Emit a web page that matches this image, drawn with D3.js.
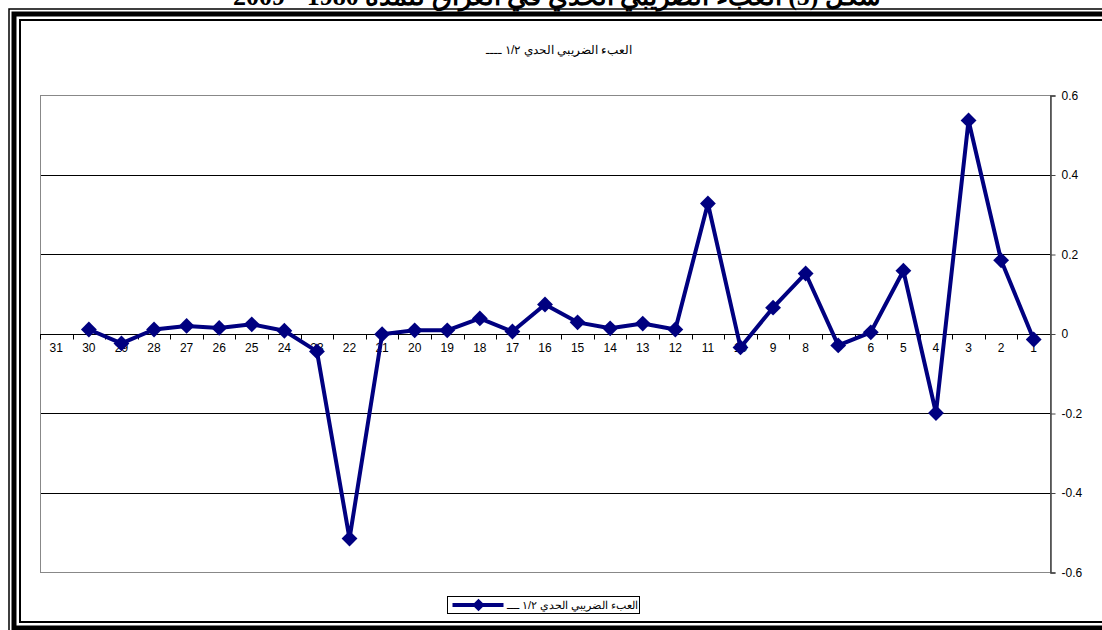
<!DOCTYPE html>
<html>
<head>
<meta charset="utf-8">
<script src="https://cdn.jsdelivr.net/npm/d3@7"></script>
<style>
	body { margin: 0; background: #fff; }
	svg { display: block; }
</style>
</head>
<body>
<div id="chart"></div>
<script>
// categories run 1..31, drawn right to left
const categories = d3.range(1, 32);
// marginal tax burden values, one per category (31 has no value)
const values = [
	-0.015, 0.184, 0.536, -0.2, 0.158, 0.003, -0.03, 0.151, 0.065, -0.035,
	0.327, 0.01, 0.025, 0.013, 0.028, 0.073, 0.005, 0.038, 0.008, 0.008,
	-0.002, -0.516, -0.045, 0.007, 0.023, 0.014, 0.019, 0.01, -0.025, 0.01,
	null
];
const yTicks = [-0.6, -0.4, -0.2, 0, 0.2, 0.4, 0.6];
const seriesName = 'العبء الضريبي الحدي ١/٢ ــــ';
const pageTitle = 'شكل (5) العبء الضريبي الحدي في العراق للمدة 1980 - 2009';

function createChart() {
	d3.select('#chart').html('');

	const width = 1102;
	const height = 630;
	const plot = { left: 40, right: 1050, top: 95, bottom: 572 };
	const navy = '#000080';

	const svg = d3
		.select('#chart')
		.append('svg')
		.attr('width', width)
		.attr('height', height)
		.style('font-family', 'Arial, "Liberation Sans", sans-serif');

	// page title, mostly cut off at the top
	svg.append('text')
		.attr('x', 557)
		.attr('y', 5)
		.attr('text-anchor', 'middle')
		.attr('direction', 'rtl')
		.style('font-family', '"Liberation Serif", "DejaVu Serif", serif')
		.style('font-weight', 'bold')
		.style('font-size', '26px')
		.text(pageTitle);

	// triple border frame: [offset, stroke width] for each ring
	const rings = [
		[9, 1.5],
		[14, 5],
		[20, 2]
	];
	const frame = svg.append('g').attr('stroke', '#000').attr('fill', 'none');
	rings.forEach(([o, w]) => {
		const bottom = 642 - o;
		frame.append('path')
			.attr('d', `M${width + 5},${o}H${o}V${bottom}H${width + 5}`)
			.attr('stroke-width', w);
	});

	const x = d3
		.scaleBand()
		.domain(categories.slice().reverse())
		.range([plot.left, plot.right]);

	const y = d3
		.scaleLinear()
		.domain([-0.6, 0.6])
		.range([plot.bottom, plot.top]);

	// gridlines
	svg.append('g')
		.selectAll('line')
		.data(yTicks.filter((d) => d !== 0 && Math.abs(d) !== 0.6))
		.enter()
		.append('line')
		.attr('x1', plot.left)
		.attr('x2', plot.right)
		.attr('y1', (d) => Math.round(y(d)) + 0.5)
		.attr('y2', (d) => Math.round(y(d)) + 0.5)
		.attr('stroke', '#000')
		.attr('stroke-width', 1);

	// plot area border
	svg.append('rect')
		.attr('x', plot.left + 0.5)
		.attr('y', plot.top + 0.5)
		.attr('width', plot.right - plot.left)
		.attr('height', plot.bottom - plot.top)
		.attr('fill', 'none')
		.attr('stroke', '#888');

	// value axis on the right
	svg.append('g')
		.attr('transform', `translate(${plot.right + 0.5},0.5)`)
		.call(
			d3.axisRight(y)
				.tickValues(yTicks)
				.tickSize(5)
				.tickPadding(6)
				.tickFormat((d) => String(d))
		)
		.call((g) => g.select('.domain').attr('stroke', '#444').attr('stroke-width', 1.5))
		.call((g) => g.selectAll('.tick line').attr('stroke', '#444'))
		.call((g) =>
			g.selectAll('text')
				.style('font-family', 'Arial, "Liberation Sans", sans-serif')
				.style('font-size', '12px')
				.attr('fill', '#000')
		);

	// category axis along zero
	const y0 = Math.round(y(0)) + 0.5;
	const catAxis = svg.append('g');
	catAxis.append('line')
		.attr('x1', plot.left)
		.attr('x2', plot.right)
		.attr('y1', y0)
		.attr('y2', y0)
		.attr('stroke', '#000');
	catAxis.selectAll('line.tick')
		.data(x.domain())
		.enter()
		.append('line')
		.attr('class', 'tick')
		.attr('x1', (d) => Math.round(x(d)) + 0.5)
		.attr('x2', (d) => Math.round(x(d)) + 0.5)
		.attr('y1', y0)
		.attr('y2', y0 + 5)
		.attr('stroke', '#000');
	catAxis.selectAll('text')
		.data(x.domain())
		.enter()
		.append('text')
		.attr('x', (d) => x(d) + x.bandwidth() / 2)
		.attr('y', y0 + 17)
		.attr('text-anchor', 'middle')
		.style('font-size', '12px')
		.text((d) => d);

	// series line
	const points = categories
		.map((c, i) => ({ c: c, v: values[i] }))
		.filter((d) => d.v !== null);

	const line = d3
		.line()
		.x((d) => x(d.c) + x.bandwidth() / 2)
		.y((d) => y(d.v));

	svg.append('path')
		.datum(points)
		.attr('d', line)
		.attr('fill', 'none')
		.attr('stroke', navy)
		.attr('stroke-width', 4)
		.attr('stroke-linejoin', 'round');

	const diamond = d3.symbol().type(d3.symbolDiamond2).size(160);

	svg.append('g')
		.selectAll('path')
		.data(points)
		.enter()
		.append('path')
		.attr('d', diamond)
		.attr('transform', (d) => `translate(${x(d.c) + x.bandwidth() / 2},${y(d.v)})`)
		.attr('fill', navy);

	// chart title
	svg.append('text')
		.attr('x', 559)
		.attr('y', 54)
		.attr('text-anchor', 'middle')
		.attr('direction', 'rtl')
		.style('font-size', '12px')
		.text(seriesName);

	// legend
	const legend = svg.append('g').attr('transform', 'translate(447.5,596.5)');
	legend.append('rect')
		.attr('width', 192)
		.attr('height', 17)
		.attr('fill', '#fff')
		.attr('stroke', '#000');
	legend.append('line')
		.attr('x1', 5)
		.attr('x2', 56)
		.attr('y1', 8.5)
		.attr('y2', 8.5)
		.attr('stroke', navy)
		.attr('stroke-width', 4);
	legend.append('path')
		.attr('d', d3.symbol().type(d3.symbolDiamond2).size(100))
		.attr('transform', 'translate(31,8.5)')
		.attr('fill', navy);
	legend.append('text')
		.attr('x', 125)
		.attr('y', 12.5)
		.attr('text-anchor', 'middle')
		.attr('direction', 'rtl')
		.style('font-size', '11px')
		.text(seriesName);
}

createChart();
</script>
</body>
</html>
